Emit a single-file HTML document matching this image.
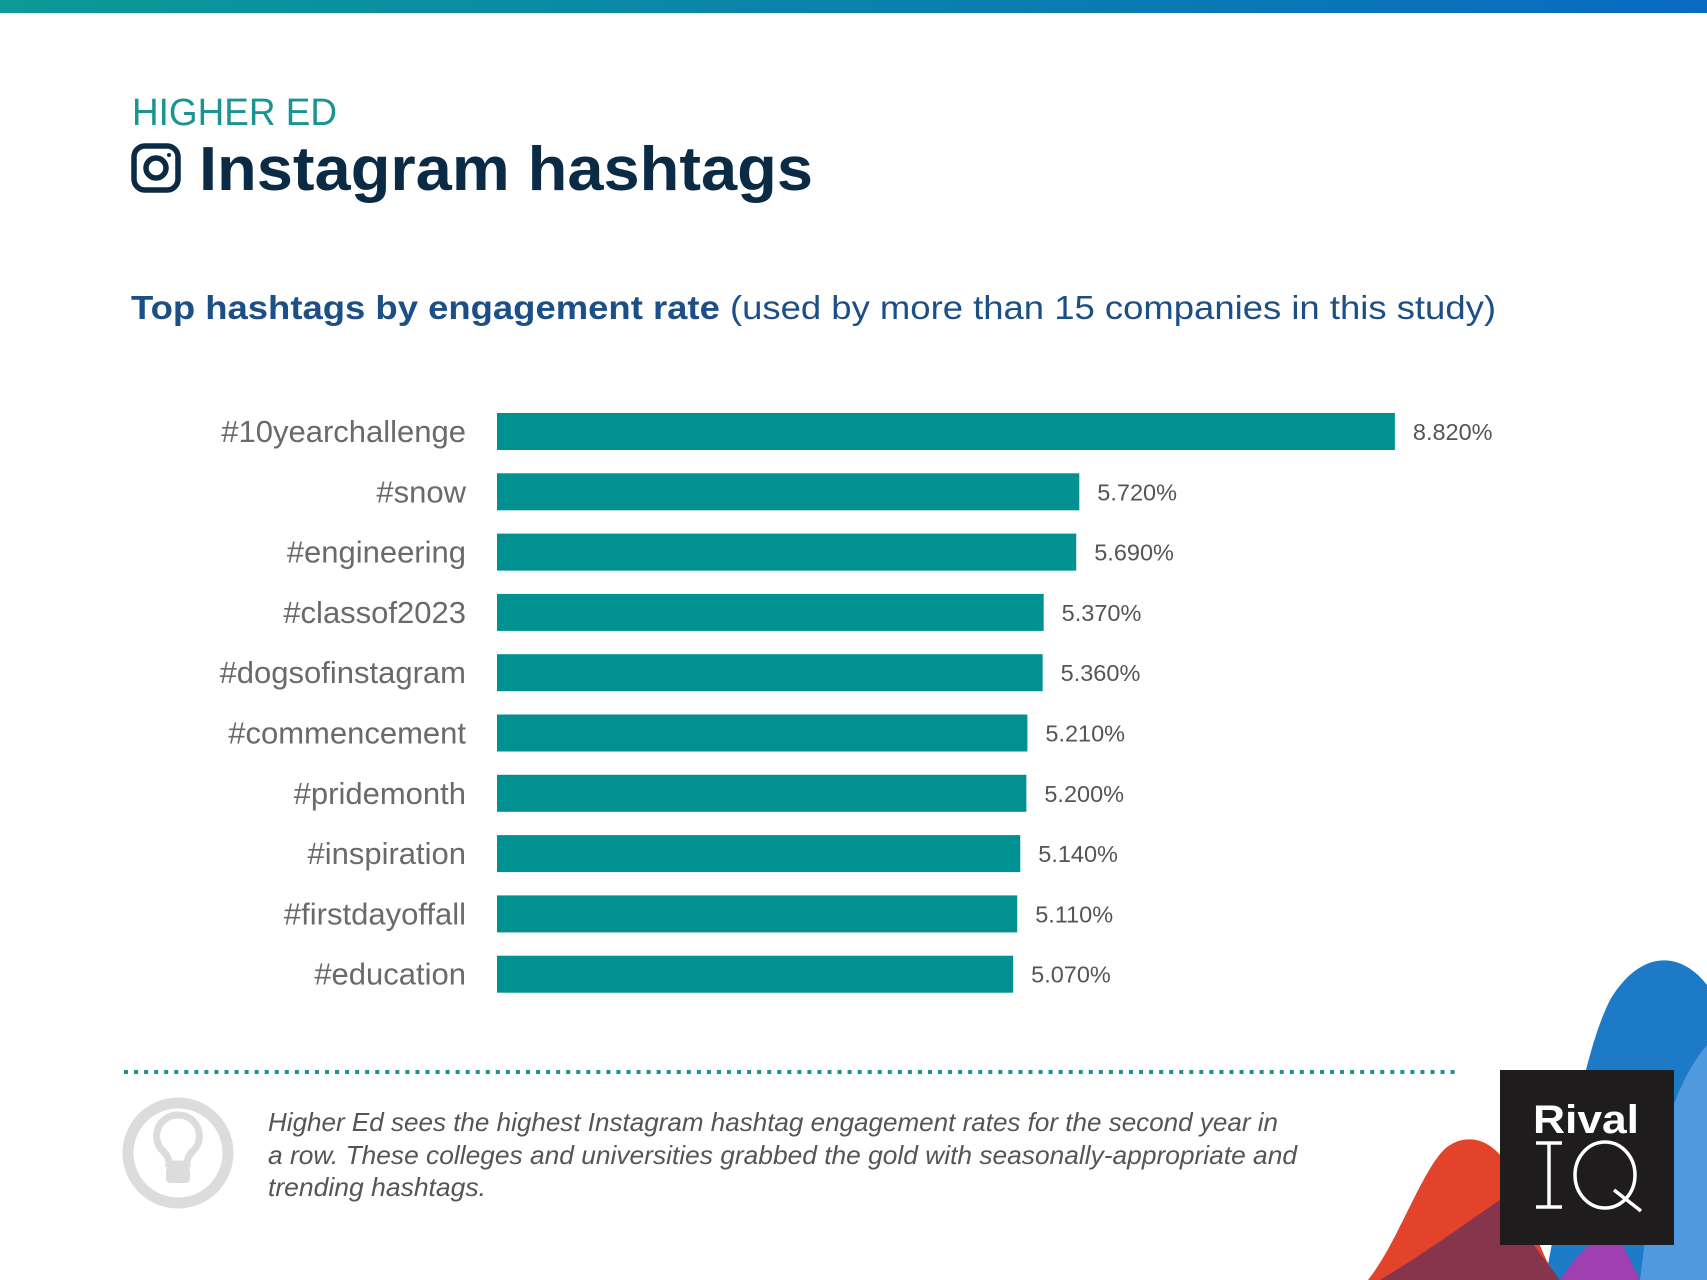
<!DOCTYPE html>
<html><head><meta charset="utf-8"><style>
html,body{margin:0;padding:0;background:#fff;}
svg{display:block;}
text{font-family:"Liberation Sans",sans-serif;}
</style></head><body>
<svg id="chart" width="1707" height="1280" viewBox="0 0 1707 1280">
<defs>
<linearGradient id="topg" x1="0" x2="1"><stop offset="0" stop-color="#0b9a96"/><stop offset="1" stop-color="#0a6ac2"/></linearGradient>
</defs>
<rect x="0" y="0" width="1707" height="13" fill="url(#topg)"/>
<g>
<path d="M1545,1280 C1565,1180 1580,1060 1610,1000 C1640,950 1680,950 1707,985 L1707,1280 Z" fill="#1c7ac6"/>
<path d="M1368,1280 C1400,1240 1425,1160 1450,1145 C1470,1133 1495,1140 1510,1170 C1530,1210 1540,1260 1560,1280 Z" fill="#e2432a"/>
<path d="M1380,1280 C1430,1250 1470,1220 1500,1200 L1560,1280 Z" fill="#87344d"/>
<path d="M1560,1280 C1580,1250 1600,1230 1620,1240 L1640,1280 Z" fill="#a040b0"/>
<path d="M1640,1280 C1650,1200 1660,1100 1707,1045 L1707,1280 Z" fill="#4f9ade"/>
</g>
<text x="132" y="125" font-size="38" fill="#1a9490" textLength="205" lengthAdjust="spacingAndGlyphs">HIGHER ED</text>
<g fill="none" stroke="#0b2a44">
<rect x="134" y="146" width="44" height="44" rx="11" stroke-width="5.5"/>
<circle cx="156" cy="168" r="10" stroke-width="5.5"/>
<circle cx="169" cy="155" r="2" fill="#0b2a44" stroke="none"/>
</g>
<text x="199" y="190" font-size="62" font-weight="bold" fill="#0b2a44" textLength="614" lengthAdjust="spacingAndGlyphs">Instagram hashtags</text>
<text x="131" y="319" font-size="33" fill="#1b4f86" textLength="1365" lengthAdjust="spacingAndGlyphs"><tspan font-weight="bold">Top hashtags by engagement rate</tspan> (used by more than 15 companies in this study)</text>
<g id="bars"></g>
<line x1="124" y1="1072" x2="1458" y2="1072" stroke="#1a9490" stroke-width="4" stroke-dasharray="4 6.05"/>
<g>
<circle cx="178" cy="1153" r="50" fill="none" stroke="#dcdcdc" stroke-width="11"/>
<path d="M178,1115 a21,21 0 0 1 14,37 c-4,4 -5,8 -5,12 h-18 c0,-4 -1,-8 -5,-12 a21,21 0 0 1 14,-37 z" fill="none" stroke="#dcdcdc" stroke-width="7"/>
<rect x="166" y="1167" width="24" height="16" rx="4" fill="#dcdcdc"/>
</g>
<g font-size="26" font-style="italic" fill="#555">
<text x="268" y="1131" textLength="1010" lengthAdjust="spacingAndGlyphs">Higher Ed sees the highest Instagram hashtag engagement rates for the second year in</text>
<text x="268" y="1164" textLength="1029" lengthAdjust="spacingAndGlyphs">a row. These colleges and universities grabbed the gold with seasonally-appropriate and</text>
<text x="268" y="1196" textLength="218" lengthAdjust="spacingAndGlyphs">trending hashtags.</text>
</g>
<g>
<rect x="1500" y="1070" width="174" height="175" fill="#1e1c1d"/>
<text x="1586" y="1133" font-size="40" font-weight="bold" fill="#fff" text-anchor="middle" textLength="106" lengthAdjust="spacingAndGlyphs">Rival</text>
<g stroke="#fff" stroke-width="3.5" fill="none">
<line x1="1536" y1="1143" x2="1562" y2="1143"/><line x1="1549" y1="1143" x2="1549" y2="1207"/><line x1="1536" y1="1207" x2="1562" y2="1207"/>
<ellipse cx="1605" cy="1175" rx="30" ry="33"/><line x1="1614" y1="1190" x2="1641" y2="1211"/>
</g>
</g>
</svg>
<script>
const categories = ["#10yearchallenge","#snow","#engineering","#classof2023","#dogsofinstagram","#commencement","#pridemonth","#inspiration","#firstdayoffall","#education"];
const values = [8.82,5.72,5.69,5.37,5.36,5.21,5.20,5.14,5.11,5.07];
const valueLabels = ["8.820%","5.720%","5.690%","5.370%","5.360%","5.210%","5.200%","5.140%","5.110%","5.070%"];
const NS = "http://www.w3.org/2000/svg";
const x0 = 497, pxPer = 101.8, y0 = 413, pitch = 60.3, bh = 37;
const xScale = v => x0 + v * pxPer;
const yScale = i => y0 + i * pitch;
const g = document.getElementById('bars');
categories.forEach((c, i) => {
  const y = yScale(i);
  const r = document.createElementNS(NS, 'rect');
  r.setAttribute('x', x0); r.setAttribute('y', y);
  r.setAttribute('width', xScale(values[i]) - x0); r.setAttribute('height', bh);
  r.setAttribute('fill', '#009190');
  
  
  g.appendChild(r);
  const t = document.createElementNS(NS, 'text');
  t.setAttribute('x', 466); t.setAttribute('y', y + 29);
  t.setAttribute('text-anchor', 'end'); t.setAttribute('font-size', '31'); t.setAttribute('fill', '#6a6a6a');
  t.textContent = c;
  
  
  g.appendChild(t);
  const v = document.createElementNS(NS, 'text');
  v.setAttribute('x', xScale(values[i]) + 18); v.setAttribute('y', y + 27);
  v.setAttribute('font-size', '23.5'); v.setAttribute('fill', '#555');
  v.textContent = valueLabels[i];
  
  
  g.appendChild(v);
});
</script>
</body></html>
